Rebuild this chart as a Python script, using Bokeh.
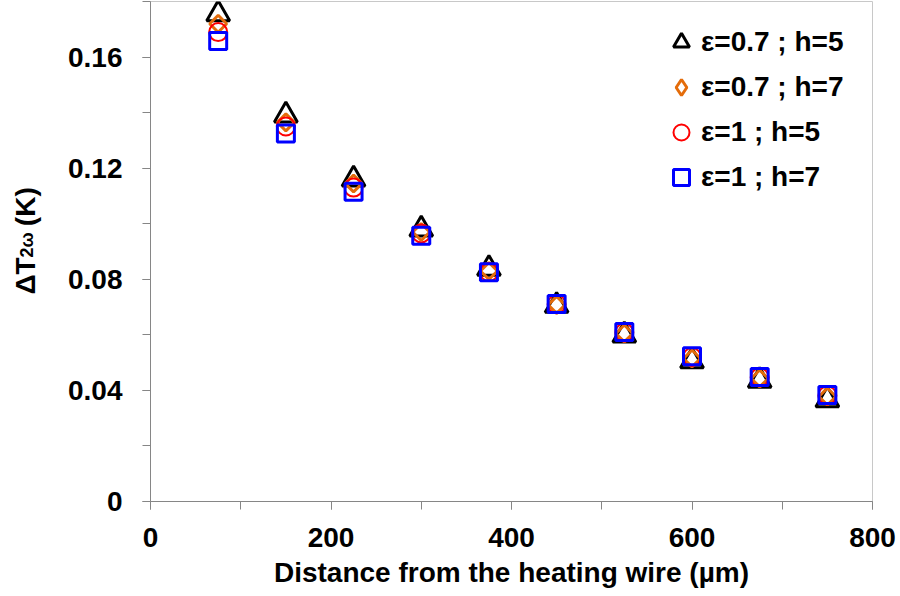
import math
from bokeh.plotting import figure
from bokeh.models import (Range1d, SingleIntervalTicker, CustomJSTickFormatter,
                          Legend, LegendItem, Label, ColumnDataSource)
from bokeh.embed import file_html
from bokeh.resources import INLINE

# ---- data ----
distance_um = [75, 150, 225, 300, 375, 450, 525, 600, 675, 750]
dT_e07_h5 = [0.1755, 0.1390, 0.1160, 0.0980, 0.0838, 0.0705, 0.0598, 0.0505, 0.0435, 0.0365]
dT_e07_h7 = [0.1720, 0.1365, 0.1145, 0.0970, 0.0830, 0.0708, 0.0605, 0.0515, 0.0443, 0.0378]
dT_e1_h5 = [0.1690, 0.1350, 0.1130, 0.0965, 0.0826, 0.0710, 0.0608, 0.0520, 0.0447, 0.0382]
dT_e1_h7 = [0.1658, 0.1325, 0.1115, 0.0957, 0.0825, 0.0711, 0.0610, 0.0523, 0.0448, 0.0383]
series_labels = ["\u03b5=0.7 ; h=5", "\u03b5=0.7 ; h=7", "\u03b5=1 ; h=5", "\u03b5=1 ; h=7"]
x_label = "Distance from the heating wire (\u00b5m)"
y_label_main = "\u0394T\u00a0\u00a0\u00a0\u00a0(K)"
y_label_sub = "2\u03c9"

FONT = "Liberation Sans"
AXIS_GREY = "#868686"
ORANGE = "#E46C0A"

p = figure(width=900, height=596,
           x_range=Range1d(0, 800), y_range=Range1d(0, 0.18),
           output_backend="svg", toolbar_location=None,
           min_border_left=150, min_border_right=28,
           min_border_top=1, min_border_bottom=95)
p.grid.visible = False
p.outline_line_color = "#c8c8c8"
p.outline_line_width = 1
p.background_fill_color = "white"
p.border_fill_color = "white"

src = ColumnDataSource(dict(x=distance_um, a=dT_e07_h5, b=dT_e07_h7,
                            c=dT_e1_h5, d=dT_e1_h7))

r1 = p.scatter("x", "a", source=src, marker="triangle", size=23,
               line_color="black", line_width=3, fill_alpha=0)
r2 = p.scatter("x", "b", source=src, marker="square", size=12, angle=math.pi / 4,
               line_color=ORANGE, line_width=3, fill_alpha=0)
r3 = p.scatter("x", "c", source=src, marker="circle", size=18,
               line_color="#FF0000", line_width=2, fill_alpha=0)
r4 = p.scatter("x", "d", source=src, marker="square", size=17,
               line_color="#0000FF", line_width=3, fill_alpha=0)
# legend-only glyph for the diamond series (legend ignores marker angle)
r2_leg = p.scatter(x=[float("nan")], y=[float("nan")], marker="diamond", size=18,
                   line_color=ORANGE, line_width=3, fill_alpha=0)

# axes
p.xaxis.ticker = SingleIntervalTicker(interval=200, num_minor_ticks=2)
p.yaxis.ticker = SingleIntervalTicker(interval=0.04, num_minor_ticks=2)
p.yaxis.formatter = CustomJSTickFormatter(
    code="return Math.abs(tick) < 1e-9 ? '0' : tick.toFixed(2);")

for ax in (p.xaxis[0], p.yaxis[0]):
    ax.axis_line_color = AXIS_GREY
    ax.major_tick_line_color = AXIS_GREY
    ax.minor_tick_line_color = AXIS_GREY
    ax.major_tick_out = 8
    ax.major_tick_in = 0
    ax.minor_tick_out = 8
    ax.minor_tick_in = 0
    ax.major_label_text_font = FONT
    ax.major_label_text_font_style = "bold"
    ax.major_label_text_font_size = "28px"
    ax.major_label_text_color = "black"

p.xaxis.major_label_standoff = 18
p.yaxis.major_label_standoff = 20
p.xaxis.axis_label = x_label
p.xaxis.axis_label_text_font = FONT
p.xaxis.axis_label_text_font_style = "bold"
p.xaxis.axis_label_text_font_size = "28px"
p.xaxis.axis_label_text_color = "black"
p.xaxis.axis_label_standoff = 7

# y-axis title (with subscript) as labels in the left panel
def ylab(text, x, y, size):
    return Label(x=x, y=y, x_units="screen", y_units="screen", angle=math.pi / 2,
                 text=text, text_font=FONT, text_font_style="bold",
                 text_font_size=size, text_color="black",
                 text_align="left", text_baseline="alphabetic")

p.add_layout(ylab(y_label_main, -9, 207, "28px"), "left")
p.add_layout(ylab(y_label_sub, 12, 244, "18px"), "left")

legend = Legend(items=[LegendItem(label=series_labels[0], renderers=[r1]),
                       LegendItem(label=series_labels[1], renderers=[r2_leg]),
                       LegendItem(label=series_labels[2], renderers=[r3]),
                       LegendItem(label=series_labels[3], renderers=[r4])],
                location=(511, 304), glyph_width=40, glyph_height=40,
                label_standoff=0, spacing=5, padding=0, margin=0,
                border_line_alpha=0, background_fill_alpha=0,
                label_text_font=FONT, label_text_font_style="bold",
                label_text_font_size="28px", label_text_color="black")
p.add_layout(legend)

open("out.html", "w").write(file_html(p, INLINE))
